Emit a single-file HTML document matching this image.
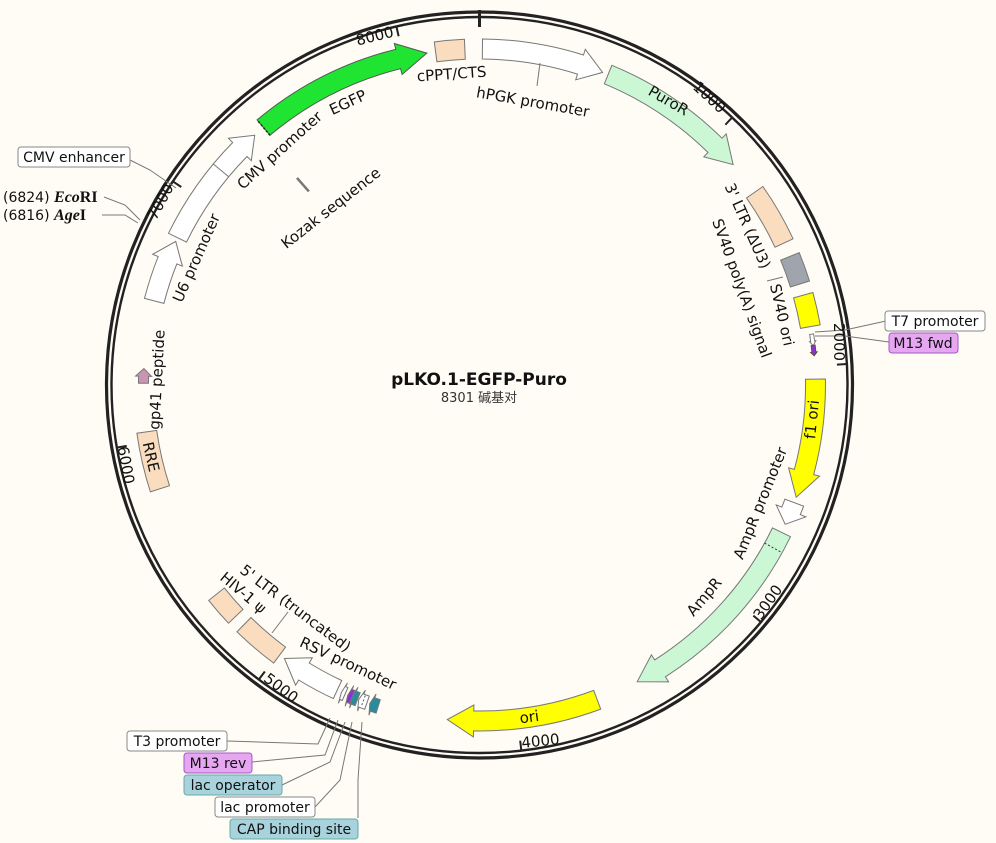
<!DOCTYPE html>
<html><head><meta charset="utf-8"><style>
html,body{margin:0;padding:0;background:#fffcf5;}
svg{display:block;}
text{font-family:"DejaVu Sans","Liberation Sans",sans-serif;font-size:15px;fill:#111;}
.bx{font-size:14px;}
</style></head><body>
<svg id="s" width="996" height="843" viewBox="0 0 996 843" xmlns="http://www.w3.org/2000/svg">
<rect width="996" height="843" fill="#fffcf5"/>
<g id="feat"></g>
<circle cx="479.5" cy="385" r="373" fill="none" stroke="#222" stroke-width="3.2"/>
<circle cx="479.5" cy="385" r="368" fill="none" stroke="#222" stroke-width="2.4"/>
<line x1="479.5" y1="10" x2="479.5" y2="27" stroke="#222" stroke-width="3"/>
<g id="ticks" stroke="#222" stroke-width="2"></g>

<!-- leader lines -->
<g stroke="#777" stroke-width="1" fill="none">
<line x1="540" y1="63" x2="537" y2="86"/>
<line x1="767" y1="281" x2="783" y2="277"/>
<line x1="272" y1="633" x2="288" y2="612"/>
<polyline points="130,160 150,170 176,188"/>
<polyline points="104,197 125,205 140,220"/>
<polyline points="102,215 125,215 138,223"/>
<polyline points="886,321 845,330 815,332"/>
<polyline points="889,342 845,336 815,336"/>
<polyline points="227,741 318,744 330,718"/>
<polyline points="252,762 325,755 338,720"/>
<polyline points="282,785 330,762 345,722"/>
<polyline points="315,807 340,780 352,722"/>
<polyline points="358,818 358,780 362,722"/>
</g>

<!-- tick labels -->
<text transform="translate(376,41) rotate(-14)" text-anchor="middle">8000</text>
<text transform="translate(706,101) rotate(43)" text-anchor="middle">1000</text>
<text transform="translate(834,342) rotate(90)" text-anchor="middle">2000</text>
<text transform="translate(772,605) rotate(-55)" text-anchor="middle">3000</text>
<text transform="translate(541,746) rotate(-6)" text-anchor="middle">4000</text>
<text transform="translate(278,692) rotate(37)" text-anchor="middle">5000</text>
<text transform="translate(121,466) rotate(80)" text-anchor="middle">6000</text>
<text transform="translate(165,204) rotate(-62)" text-anchor="middle">7000</text>

<!-- feature labels -->
<text transform="translate(452,79) rotate(-4)" text-anchor="middle">cPPT/CTS</text>
<text transform="translate(532,107) rotate(10)" text-anchor="middle">hPGK promoter</text>
<text transform="translate(666,105) rotate(30)" text-anchor="middle">PuroR</text>
<text transform="translate(350,107) rotate(-25)" text-anchor="middle">EGFP</text>
<text transform="translate(283,154) rotate(-42)" text-anchor="middle">CMV promoter</text>
<text transform="translate(334,212) rotate(-38)" text-anchor="middle">Kozak sequence</text>
<text transform="translate(201,260) rotate(-66)" text-anchor="middle">U6 promoter</text>
<text transform="translate(162,380) rotate(-87)" text-anchor="middle">gp41 peptide</text>
<text transform="translate(146,458) rotate(77)" text-anchor="middle">RRE</text>
<text transform="translate(743,228) rotate(66)" text-anchor="middle">3' LTR (ΔU3)</text>
<text transform="translate(737,290) rotate(70)" text-anchor="middle">SV40 poly(A) signal</text>
<text transform="translate(777,316) rotate(77)" text-anchor="middle">SV40 ori</text>
<text transform="translate(817,420) rotate(-84)" text-anchor="middle">f1 ori</text>
<text transform="translate(765,505) rotate(-68)" text-anchor="middle">AmpR promoter</text>
<text transform="translate(708,600) rotate(-50)" text-anchor="middle">AmpR</text>
<text transform="translate(530,722) rotate(-8)" text-anchor="middle">ori</text>
<text transform="translate(346,668) rotate(25)" text-anchor="middle">RSV promoter</text>
<text transform="translate(239,572) rotate(37)">5' LTR (truncated)</text>
<text transform="translate(219,579) rotate(40)">HIV-1 ψ</text>

<!-- center -->
<text x="479" y="385" text-anchor="middle" style="font-size:17px;font-weight:bold">pLKO.1-EGFP-Puro</text>
<text x="479" y="402" text-anchor="middle" style="font-family:'DejaVu Sans','Noto Sans CJK SC',sans-serif;font-size:13px;fill:#333">8301 碱基对</text>

<!-- boxed labels -->
<g stroke="#888" stroke-width="1">
<rect x="18" y="147" width="112" height="20" rx="3" fill="#fff"/>
<rect x="885" y="311" width="100" height="20" rx="3" fill="#fff"/>
<rect x="889" y="333" width="69" height="20" rx="3" fill="#e6a6f2" stroke="#a05cc0"/>
<rect x="127" y="731" width="100" height="20" rx="3" fill="#fff"/>
<rect x="184" y="753" width="68" height="20" rx="3" fill="#e6a6f2" stroke="#a05cc0"/>
<rect x="184" y="775" width="98" height="20" rx="3" fill="#a8d3dc" stroke="#6aa"/>
<rect x="215" y="797" width="100" height="20" rx="3" fill="#fff"/>
<rect x="230" y="819" width="128" height="20" rx="3" fill="#a8d3dc" stroke="#6aa"/>
</g>
<text class="bx" x="74" y="162" text-anchor="middle">CMV enhancer</text>
<text class="bx" x="935" y="326" text-anchor="middle">T7 promoter</text>
<text class="bx" x="923" y="348" text-anchor="middle">M13 fwd</text>
<text class="bx" x="177" y="746" text-anchor="middle">T3 promoter</text>
<text class="bx" x="218" y="768" text-anchor="middle">M13 rev</text>
<text class="bx" x="233" y="790" text-anchor="middle">lac operator</text>
<text class="bx" x="265" y="812" text-anchor="middle">lac promoter</text>
<text class="bx" x="294" y="834" text-anchor="middle">CAP binding site</text>
<text class="bx" x="3" y="202">(6824) <tspan font-weight="bold" font-style="italic" font-family="Liberation Serif,serif" font-size="16">Eco</tspan><tspan font-weight="bold" font-family="Liberation Serif,serif" font-size="16">RI</tspan></text>
<text class="bx" x="3" y="220">(6816) <tspan font-weight="bold" font-style="italic" font-family="Liberation Serif,serif" font-size="16">Age</tspan><tspan font-weight="bold" font-family="Liberation Serif,serif" font-size="16">I</tspan></text>
</svg>
<script>
var cx=479.5,cy=385,NS="http://www.w3.org/2000/svg";
function P(a,r){var t=a*Math.PI/180;return [cx+r*Math.sin(t),cy-r*Math.cos(t)];}
function f(p){return p[0].toFixed(1)+","+p[1].toFixed(1);}
function arcPath(a1,a2,r){var large=(a2-a1)>180?1:0;return "A"+r+","+r+" 0 "+large+" 1 "+f(P(a2,r));}
function arcPathRev(a1,a2,r){var large=(a2-a1)>180?1:0;return "A"+r+","+r+" 0 "+large+" 0 "+f(P(a1,r));}
var g=document.getElementById("feat");
function add(d,fill,stroke){var e=document.createElementNS(NS,"path");e.setAttribute("d",d);e.setAttribute("fill",fill);e.setAttribute("stroke",stroke||"#777");e.setAttribute("stroke-width","1");g.appendChild(e);}
function box(a1,a2,fill,r1,r2,st){r1=r1||326;r2=r2||346;add("M"+f(P(a1,r2))+arcPath(a1,a2,r2)+"L"+f(P(a2,r1))+arcPathRev(a1,a2,r1)+"Z",fill,st);}
function arrow(a1,a2,fill,h,r1,r2,st){r1=r1||326;r2=r2||346;var w=(r2-r1)*0.3,b=a2-h,m=(r1+r2)/2;
 add("M"+f(P(a1,r2))+arcPath(a1,b,r2)+"L"+f(P(b,r2+w))+"L"+f(P(a2,m))+"L"+f(P(b,r1-w))+"L"+f(P(b,r1))+arcPathRev(a1,b,r1)+"Z",fill,st);}
function line(a,r1,r2,c,w,dash){var e=document.createElementNS(NS,"line"),p=P(a,r1),q=P(a,r2);e.setAttribute("x1",p[0]);e.setAttribute("y1",p[1]);e.setAttribute("x2",q[0]);e.setAttribute("y2",q[1]);e.setAttribute("stroke",c);e.setAttribute("stroke-width",w);if(dash)e.setAttribute("stroke-dasharray",dash);g.appendChild(e);}
var peach="#fadcbe",lg="#ccf7d4",yel="#ffff00";
box(-7.5,-2.5,peach);
arrow(0.5,21.5,"#fff",4);
arrow(22.5,49,lg,4.5);
box(55,65,peach);
box(67.5,72.5,"#a0a4ac");
box(74.5,80,yel);
arrow(81.3,83.3,"#fff",0.8,334,338);
arrow(83.2,85,"#8d32d0",0.6,334,338,"#552");
arrow(89,109.5,yel,4.5);
arrow(110.5,114.5,"#fff",2.5);
arrow(116,152,lg,4.5);line(119,326,346,"#333",1,"2,2");
arrow(159.5,185.5,yel,4.5);
arrow(197.5,199,"#2a8b9c",0.5,330,344);
arrow(199.5,201,"#fff",0.5,330,344);line(200.2,331,343,"#555",1,"2,2");
arrow(201.2,202.3,"#2a8b9c",0.4,330,344);
arrow(202.2,203,"#8d32d0",0.3,330,344);
arrow(203.5,204.2,"#fff",0.3,330,344);
arrow(205,215.5,"#fff",4);
box(216.5,224.5,peach);
box(226.5,231.5,peach);
box(252,262,peach);
arrow(270.3,272.8,"#c995b3",1.3,331,341);
arrow(284.5,295.3,"#fff",3.5);
arrow(296,318,"#fff",3.5);line(309.7,326,346,"#777",1);
arrow(320,351,"#1fe432",5,326,346,"#555");line(320,326,346,"#030",1.5,"2,2");
line(318.6,258,276,"#777",2.5);
var t=document.getElementById("ticks");
[1000,2000,3000,4000,5000,6000,7000,8000].forEach(function(n){var a=n/8301*360,p=P(a,368),q=P(a,358);var e=document.createElementNS(NS,"line");e.setAttribute("x1",p[0]);e.setAttribute("y1",p[1]);e.setAttribute("x2",q[0]);e.setAttribute("y2",q[1]);t.appendChild(e);});
</script>
</body></html>
